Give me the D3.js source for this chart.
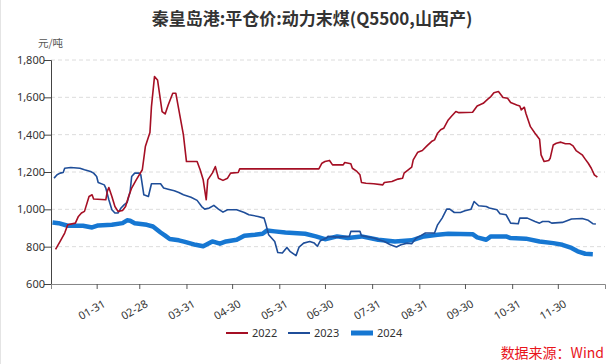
<!DOCTYPE html>
<html><head><meta charset="utf-8">
<script src="https://cdn.jsdelivr.net/npm/d3@7"></script>
<style>
html,body{margin:0;padding:0;background:#fff;}
svg{display:block;font-family:"Noto Sans","Noto Sans CJK SC",sans-serif;}
</style></head>
<body><svg id="c" width="616" height="364"></svg>
<script>
const title = "秦皇岛港:平仓价:动力末煤(Q5500,山西产)";
const unit = "元/吨";
const source = "数据来源：Wind";
const seriesNames = ["2022", "2023", "2024"];
const seriesColors = ["#A50F24", "#1F4E99", "#1677D2"];
const yTicks = [600, 800, 1000, 1200, 1400, 1600, 1800];
const xTickLabels = ["01-31","02-28","03-31","04-30","05-31","06-30","07-31","08-31","09-30","10-31","11-30"];

const dates2022 = ["01-04","01-07","01-10","01-12","01-17","01-19","01-21","01-23","01-26","01-28","01-29","02-06","02-07","02-08","02-10","02-12","02-14","02-17","02-19","02-21","02-23","02-26","03-02","03-04","03-07","03-08","03-10","03-12","03-15","03-17","03-19","03-22","03-24","03-26","03-29","03-31","04-07","04-09","04-11","04-13","04-14","04-17","04-19","04-21","04-24","04-27","04-29","05-04","05-05","06-26","06-28","06-30","07-03","07-05","07-12","07-13","07-17","07-18","07-21","07-23","07-24","07-27","08-01","08-07","08-08","08-13","08-17","08-20","08-21","08-26","08-27","08-30","09-02","09-05","09-08","09-10","09-12","09-14","09-16","09-19","09-21","09-24","09-26","10-05","10-08","10-12","10-15","10-17","10-19","10-22","10-25","10-28","10-30","11-03","11-05","11-06","11-08","11-09","11-12","11-15","11-18","11-19","11-21","11-24","11-25","11-27","11-29","12-02","12-05","12-08","12-10","12-12","12-16","12-18","12-20","12-22","12-24","12-26"];
const values2022 = [785,828,873,917,926,962,980,989,1069,1078,1055,1051,1096,1117,1069,1015,989,994,1015,1069,1114,1158,1212,1336,1411,1550,1711,1693,1524,1511,1559,1622,1622,1533,1399,1256,1256,1212,1158,1051,1158,1194,1229,1167,1155,1167,1194,1197,1217,1217,1247,1256,1262,1238,1238,1251,1244,1220,1203,1185,1144,1140,1137,1131,1144,1149,1162,1167,1194,1226,1265,1306,1315,1340,1363,1372,1408,1426,1434,1479,1497,1524,1518,1520,1554,1568,1590,1604,1625,1631,1599,1595,1572,1559,1554,1533,1547,1515,1443,1408,1376,1292,1256,1262,1274,1345,1354,1360,1351,1351,1340,1315,1292,1269,1247,1220,1185,1172];

const dates2023 = ["01-03","01-05","01-07","01-09","01-10","01-14","01-20","01-23","01-27","01-29","01-31","02-01","02-05","02-06","02-08","02-10","02-12","02-14","02-16","02-18","02-20","02-22","02-23","02-25","02-28","03-01","03-03","03-06","03-08","03-14","03-16","03-19","03-23","03-26","03-29","04-03","04-07","04-10","04-12","04-15","04-18","04-21","04-24","04-27","05-03","05-08","05-11","05-17","05-21","05-22","05-24","05-28","05-30","06-02","06-05","06-07","06-11","06-13","06-16","06-20","06-23","06-25","06-27","07-01","07-02","07-08","07-16","07-17","07-23","07-24","08-01","08-08","08-12","08-16","08-19","08-23","08-26","08-29","09-01","09-04","09-10","09-12","09-15","09-18","09-20","09-23","09-27","09-30","10-04","10-06","10-09","10-14","10-16","10-21","10-23","10-27","10-30","11-04","11-05","11-10","11-15","11-18","11-20","11-24","11-26","12-03","12-09","12-16","12-20","12-23","12-25"];
const values2023 = [1167,1185,1194,1197,1220,1224,1220,1212,1203,1194,1176,1144,1131,1114,1051,998,980,980,1007,1024,1037,1096,1176,1194,1194,1185,1078,1069,1137,1137,1114,1108,1099,1090,1078,1065,1048,1015,1001,1007,1021,1001,985,998,998,983,971,962,953,926,864,828,769,766,796,775,752,798,819,828,819,802,832,846,855,851,855,882,882,859,846,828,810,798,810,819,816,846,859,873,873,917,953,1001,1001,983,983,992,1001,1042,1019,1015,1007,998,976,971,926,923,953,953,935,926,935,935,926,930,948,951,941,923,921];

const dates2024 = ["01-02","01-06","01-12","01-22","01-28","02-01","02-10","02-17","02-20","02-22","02-25","03-05","03-09","03-14","03-17","03-20","03-26","03-30","04-06","04-11","04-17","04-22","04-26","05-03","05-08","05-15","05-20","05-23","05-28","06-04","06-17","06-24","06-30","07-02","07-08","07-15","07-24","08-04","08-15","08-26","09-03","09-12","09-19","10-05","10-08","10-14","10-17","10-27","10-30","11-09","11-18","11-27","12-03","12-09","12-13","12-18","12-23"];
const values2024 = [930,926,912,912,903,914,917,926,941,939,926,917,908,876,859,841,834,826,810,802,828,816,828,837,859,864,869,887,882,876,869,855,840,843,855,846,855,837,828,834,855,864,869,867,850,837,855,855,846,843,828,819,810,793,775,762,760];

const svg = d3.select("#c");
const W = 616, H = 364;
const m = {left: 51, right: 605, top: 60, bottom: 284};
const parse = s => d3.timeParse("%Y-%m-%d")("2022-" + s);

const x = d3.scaleTime().domain([parse("01-01"), parse("12-31")]).range([m.left, m.right]);
const y = d3.scaleLinear().domain([600, 1800]).range([m.bottom, m.top]);

svg.append("line").attr("x1",0.5).attr("x2",0.5).attr("y1",0).attr("y2",H).attr("stroke","#e4e4e4");

svg.append("text").attr("x", 312).attr("y", 25).attr("text-anchor","middle")
  .attr("font-size", 17).attr("font-weight","bold").attr("fill","#333")
  .attr("font-family","'Noto Sans CJK SC',sans-serif").text(title);

svg.append("text").attr("x", 38).attr("y", 47).attr("font-size", 10.5).attr("fill","#555")
  .attr("font-family","'Noto Sans CJK SC',sans-serif").text(unit);

// grid
svg.append("g").selectAll("line").data(yTicks.filter(d => d > 600)).join("line")
  .attr("x1", m.left).attr("x2", m.right).attr("y1", d => y(d)).attr("y2", d => y(d))
  .attr("stroke", "#dcdcdc").attr("stroke-dasharray","4,3");

// y axis
const yAxis = svg.append("g").attr("transform", `translate(${m.left},0)`)
  .call(d3.axisLeft(y).tickValues(yTicks).tickFormat(d3.format(",")).tickSizeOuter(0).tickSize(7));
yAxis.select(".domain").attr("stroke","#444");
yAxis.selectAll(".tick line").attr("stroke","#444");
yAxis.selectAll("text").attr("font-size", 11).attr("fill","#333").attr("x", -6).attr("font-family","'Noto Sans',sans-serif");

// x axis
const xAxis = svg.append("g").attr("transform", `translate(0,${m.bottom})`)
  .call(d3.axisBottom(x).tickValues(xTickLabels.map(parse)).tickFormat(d3.timeFormat("%m-%d")).tickSizeOuter(0).tickSize(5));
xAxis.select(".domain").attr("stroke","#888");
xAxis.selectAll(".tick line").attr("stroke","#555");
xAxis.selectAll("text").attr("font-size", 11).attr("fill","#333").attr("font-family","'Noto Sans',sans-serif")
  .attr("text-anchor","end").attr("dy", 0).attr("y", 0)
  .attr("transform","translate(9,22) rotate(-30)");

const series = [
  {name: seriesNames[0], dates: dates2022, values: values2022, color: seriesColors[0], w: 1.6},
  {name: seriesNames[1], dates: dates2023, values: values2023, color: seriesColors[1], w: 1.6},
  {name: seriesNames[2], dates: dates2024, values: values2024, color: seriesColors[2], w: 4.5}
];
const line = d3.line().x(d => x(d[0])).y(d => y(d[1]));
[series[2], series[1], series[0]].forEach(s => {
  const pts = s.dates.map((d,i) => [parse(d), s.values[i]]);
  svg.append("path").datum(pts).attr("d", line).attr("fill","none")
    .attr("stroke", s.color).attr("stroke-width", s.w).attr("stroke-linejoin","round");
});

// legend
const lx = [226, 288, 351];
series.forEach((s,i) => {
  svg.append("line").attr("x1", lx[i]).attr("x2", lx[i]+22).attr("y1", 333).attr("y2", 333)
    .attr("stroke", s.color).attr("stroke-width", i === 2 ? 5 : 2);
  svg.append("text").attr("x", lx[i]+26).attr("y", 337).attr("font-size", 11).attr("fill","#333")
    .attr("font-family","'Noto Sans',sans-serif").text(s.name);
});

svg.append("text").attr("x", 604).attr("y", 358).attr("text-anchor","end").attr("font-size", 14)
  .attr("fill","#E8141B").attr("font-family","'Noto Sans CJK SC',sans-serif").text(source);
</script></body></html>
